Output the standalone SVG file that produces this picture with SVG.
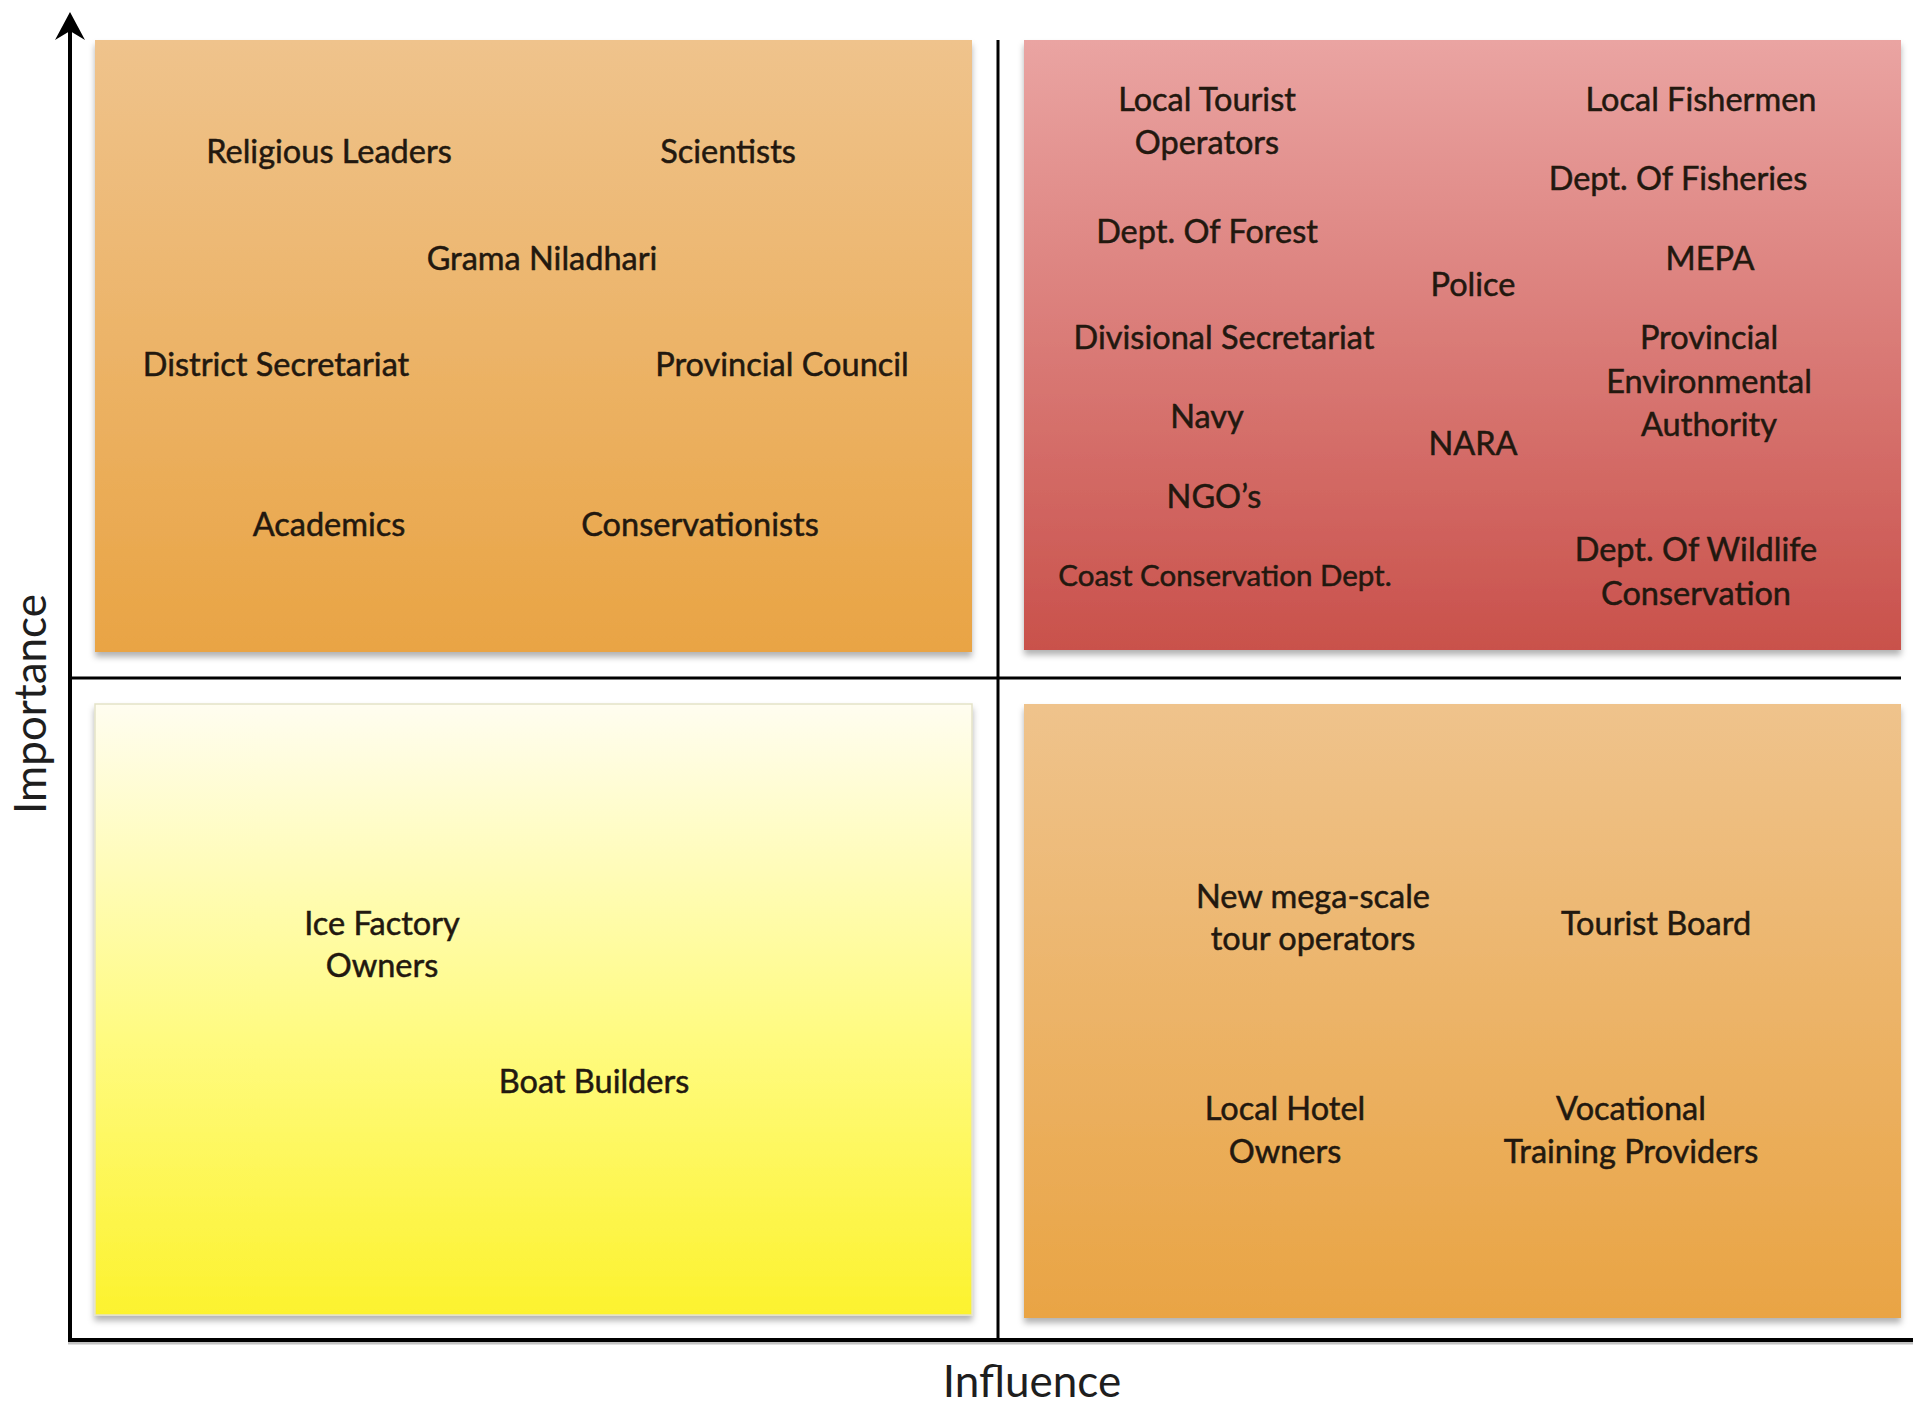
<svg xmlns="http://www.w3.org/2000/svg" width="1913" height="1405" viewBox="0 0 1913 1405">
  <style>
    .lbl { font-family: Lato, "Open Sans", "Liberation Sans", sans-serif; font-size: 32.5px; fill: #22180f; stroke: #22180f; stroke-width: 0.5px; text-anchor: middle; }
    .axis-lbl { font-family: Lato, "Open Sans", "Liberation Sans", sans-serif; font-size: 44px; fill: #1e1e1e; text-anchor: middle; }
    .box { filter: url(#shadow); }
  </style>
  <defs>
    <linearGradient id="gOrange" x1="0" y1="0" x2="0" y2="1">
      <stop offset="0" stop-color="#efc38c"/>
      <stop offset="1" stop-color="#e9a444"/>
    </linearGradient>
    <linearGradient id="gRed" x1="0" y1="0" x2="0" y2="1">
      <stop offset="0" stop-color="#eaa4a2"/>
      <stop offset="1" stop-color="#c9514b"/>
    </linearGradient>
    <linearGradient id="gYellow" x1="0" y1="0" x2="0" y2="1">
      <stop offset="0" stop-color="#fffdf0"/>
      <stop offset="0.55" stop-color="#fffb80"/>
      <stop offset="1" stop-color="#fcf22e"/>
    </linearGradient>
    <filter id="shadow" x="-5%" y="-5%" width="110%" height="112%">
      <feDropShadow dx="0" dy="5" stdDeviation="3" flood-color="#000" flood-opacity="0.3"/>
    </filter>
  </defs>

  <rect width="1913" height="1405" fill="#ffffff"/>

  <!-- quadrant: low influence, high importance -->
  <g id="q-top-left">
    <rect class="box" x="95" y="40" width="877" height="612" fill="url(#gOrange)"/>
    <text class="lbl" x="329" y="163">Religious Leaders</text>
    <text class="lbl" x="728" y="163">Scientists</text>
    <text class="lbl" x="542" y="270">Grama Niladhari</text>
    <text class="lbl" x="276" y="376">District Secretariat</text>
    <text class="lbl" x="782" y="376">Provincial Council</text>
    <text class="lbl" x="329" y="536">Academics</text>
    <text class="lbl" x="700" y="536">Conservationists</text>
  </g>

  <!-- quadrant: high influence, high importance -->
  <g id="q-top-right">
    <rect class="box" x="1024" y="40" width="877" height="610" fill="url(#gRed)"/>
    <text class="lbl" x="1207" y="111">Local Tourist</text>
    <text class="lbl" x="1207" y="154">Operators</text>
    <text class="lbl" x="1701" y="111">Local Fishermen</text>
    <text class="lbl" x="1678" y="190">Dept. Of Fisheries</text>
    <text class="lbl" x="1207" y="243">Dept. Of Forest</text>
    <text class="lbl" x="1710" y="270">MEPA</text>
    <text class="lbl" x="1473" y="296">Police</text>
    <text class="lbl" x="1224" y="349">Divisional Secretariat</text>
    <text class="lbl" x="1709" y="349">Provincial</text>
    <text class="lbl" x="1709" y="393">Environmental</text>
    <text class="lbl" x="1709" y="436">Authority</text>
    <text class="lbl" x="1207" y="428">Navy</text>
    <text class="lbl" x="1473" y="455">NARA</text>
    <text class="lbl" x="1214" y="508">NGO’s</text>
    <text class="lbl" x="1225" y="586" style="font-size:29.5px">Coast Conservation Dept.</text>
    <text class="lbl" x="1696" y="561">Dept. Of Wildlife</text>
    <text class="lbl" x="1696" y="605">Conservation</text>
  </g>

  <!-- quadrant: low influence, low importance -->
  <g id="q-bottom-left">
    <rect class="box" x="95" y="704" width="877" height="611" fill="url(#gYellow)" stroke="#e4e2c8" stroke-width="1.5"/>
    <text class="lbl" x="382" y="935">Ice Factory</text>
    <text class="lbl" x="382" y="977">Owners</text>
    <text class="lbl" x="594" y="1093">Boat Builders</text>
  </g>

  <!-- quadrant: high influence, low importance -->
  <g id="q-bottom-right">
    <rect class="box" x="1024" y="704" width="877" height="614" fill="url(#gOrange)"/>
    <text class="lbl" x="1313" y="908">New mega-scale</text>
    <text class="lbl" x="1313" y="950">tour operators</text>
    <text class="lbl" x="1656" y="935">Tourist Board</text>
    <text class="lbl" x="1285" y="1120">Local Hotel</text>
    <text class="lbl" x="1285" y="1163">Owners</text>
    <text class="lbl" x="1631" y="1120">Vocational</text>
    <text class="lbl" x="1631" y="1163">Training Providers</text>
  </g>

  <!-- axes and quadrant dividers -->
  <g id="connectors" stroke="#000" fill="none">
    <line x1="998" y1="40" x2="998" y2="1340" stroke-width="3"/>
    <line x1="70" y1="678" x2="1901" y2="678" stroke-width="3"/>
    <line x1="68" y1="1343" x2="1913" y2="1343" stroke="#999" stroke-width="3" opacity="0.6"/>
    <line x1="68" y1="1340" x2="1913" y2="1340" stroke-width="4"/>
    <line x1="70" y1="1342" x2="70" y2="22" stroke-width="4"/>
    <path d="M70,12 L55,40 L70,31 L85,40 Z" fill="#000" stroke="none"/>
  </g>

  <g id="axis-labels">
    <text class="axis-lbl" x="1032" y="1397">Influence</text>
    <text class="axis-lbl" transform="translate(46,704) rotate(-90)">Importance</text>
  </g>
</svg>
